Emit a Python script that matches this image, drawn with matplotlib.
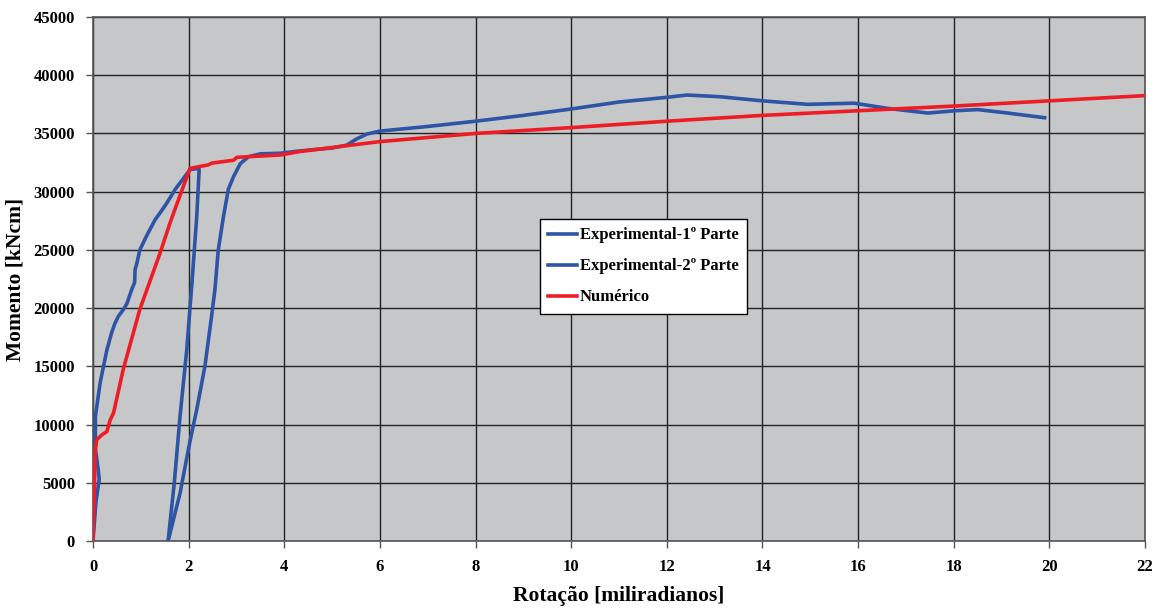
import matplotlib
matplotlib.use('Agg')
import matplotlib.pyplot as plt

plt.rcParams['font.family'] = ['Liberation Serif', 'DejaVu Serif']
plt.rcParams['font.weight'] = 'bold'

# Experimental - 1ª parte (carga e descarga)
exp1_rot = [0.0, 0.06, 0.13, 0.11, 0.05, 0.05, 0.15, 0.22, 0.29, 0.39, 0.46, 0.53, 0.64, 0.71,
            0.81, 0.87, 0.88, 0.92, 0.98, 1.12, 1.30, 1.44, 1.54, 1.72, 2.03, 2.21,
            2.22, 2.17, 2.07, 1.96, 1.82, 1.70, 1.57]
exp1_mom = [0, 3300, 5300, 6100, 7900, 10700, 13600, 15000, 16400, 17900, 18700, 19300, 19900, 20400,
            21600, 22200, 23300, 23900, 25000, 26200, 27600, 28400, 29000, 30200, 31900, 32000,
            31900, 27900, 22200, 16400, 10700, 5000, 0]

# Experimental - 2ª parte (recarga)
exp2_rot = [1.57, 1.82, 2.02, 2.17, 2.34, 2.48, 2.55, 2.62, 2.73, 2.83, 2.94, 3.08, 3.25, 3.5,
            3.92, 4.33, 5.0, 5.31, 5.5, 5.73, 6.0, 7.0, 8.0, 9.0, 10.0, 11.0, 12.0, 12.42,
            13.12, 14.0, 14.94, 15.92, 16.62, 17.46, 18.03, 18.5, 19.13, 19.9]
exp2_mom = [0, 4100, 8400, 11300, 15000, 19300, 21600, 25000, 27900, 30200, 31300, 32400, 33000, 33250,
            33300, 33500, 33750, 34000, 34500, 34950, 35200, 35600, 36050, 36550, 37100, 37700, 38100, 38300,
            38150, 37800, 37500, 37600, 37150, 36750, 36950, 37050, 36750, 36350]

# Numérico
num_rot = [0.0, 0.05, 0.08, 0.18, 0.29, 0.36, 0.43, 0.63, 0.98, 1.40, 1.61, 1.75, 2.03, 2.41, 2.48,
           2.94, 3.01, 3.92, 4.33, 6.0, 8.0, 10.0, 12.0, 14.0, 16.0, 18.0, 20.0, 22.0]
num_mom = [0, 7900, 8700, 9100, 9400, 10400, 11000, 14700, 19900, 24700, 27300, 28900, 32000, 32300, 32450,
           32700, 32950, 33150, 33450, 34300, 35000, 35500, 36050, 36550, 36950, 37350, 37800, 38250]

azul = '#2E54A6'
vermelho = '#EE1D25'

fig = plt.figure(figsize=(11.63, 6.13), dpi=100)
ax = fig.add_axes([93/1163, 72/613, 1052/1163, 524/613])
ax.set_facecolor('#C6C7C9')

ax.plot(exp1_rot, exp1_mom, color=azul, lw=2.6, label='Experimental-1º Parte', zorder=3,
        solid_joinstyle='round')
ax.plot(exp2_rot, exp2_mom, color=azul, lw=2.6, label='Experimental-2º Parte', zorder=3,
        solid_joinstyle='round')
ax.plot(num_rot, num_mom, color=vermelho, lw=2.6, label='Numérico', zorder=4,
        solid_joinstyle='round')

ax.set_xlim(0, 22)
ax.set_ylim(0, 45000)
ax.set_xticks(range(0, 23, 2))
ax.set_yticks(range(0, 45001, 5000))
ax.grid(True, color='#222222', lw=1.0)
ax.set_axisbelow(True)

for s in ax.spines.values():
    s.set_color('#555555')
    s.set_linewidth(1.2)

ax.tick_params(axis='both', direction='out', length=5, width=1, color='#555555',
               labelsize=12, pad=8)
for lab in ax.get_xticklabels() + ax.get_yticklabels():
    lab.set_fontweight('bold')

ax.set_xlabel('Rotação [miliradianos]', fontsize=15.5, fontweight='bold', labelpad=8)
ax.set_ylabel('Momento [kNcm]', fontsize=15.5, fontweight='bold', labelpad=6)

leg = ax.legend(loc='upper left', bbox_to_anchor=(0.425, 0.6145), fontsize=12,
                frameon=True, fancybox=False, edgecolor='black', framealpha=1,
                handlelength=1.7, handletextpad=0.2, labelspacing=0.9, borderpad=0.5,
                borderaxespad=0)
leg.get_frame().set_linewidth(1.0)
for t in leg.get_texts():
    t.set_fontweight('bold')

plt.savefig('out.png', dpi=100)
